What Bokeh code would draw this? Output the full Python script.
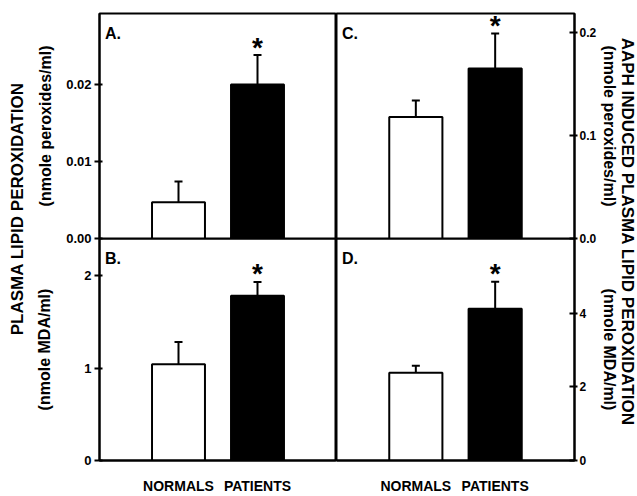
import math
from bokeh.plotting import figure
from bokeh.models import Range1d, FixedTicker, Whisker, TeeHead, Label, ColumnDataSource, NumeralTickFormatter
from bokeh.layouts import row, column
from bokeh.embed import file_html
from bokeh.resources import INLINE
from bokeh.core.properties import value

FONT = "Liberation Sans"

groups = ["NORMALS", "PATIENTS"]
bar_colors = ["white", "black"]
significance = ["", "*"]

# A: plasma lipid peroxidation (nmole peroxides/ml)
a_mean = [0.0047, 0.0200]
a_sem = [0.0027, 0.0038]
# B: plasma lipid peroxidation (nmole MDA/ml)
b_mean = [1.04, 1.78]
b_sem = [0.24, 0.15]
# C: AAPH induced plasma lipid peroxidation (nmole peroxides/ml)
c_mean = [0.118, 0.165]
c_sem = [0.016, 0.034]
# D: AAPH induced plasma lipid peroxidation (nmole MDA/ml)
d_mean = [2.39, 4.13]
d_sem = [0.19, 0.73]

a_ticks = [0, 0.01, 0.02]
b_ticks = [0, 1, 2]
c_ticks = [0, 0.1, 0.2]
d_ticks = [0, 2, 4]

a_max, b_max, c_max, d_max = 0.0292, 2.40, 0.2185, 6.04

xs = list(range(1, len(groups) + 1))


def panel(means, sems, y_end, ticks, fmt, letter, side, bottom, ylabel, lab_standoff, tick_font):
    left = side == "left"
    p = figure(
        width=303 if left else 285,
        height=258 if bottom else 248,
        x_range=Range1d(0, 3), y_range=Range1d(0, y_end),
        output_backend="svg", toolbar_location=None,
        y_axis_location=side, x_axis_location="below" if bottom else None,
        min_border_left=62 if left else 0, min_border_right=0 if left else 44,
        min_border_top=0 if bottom else 13, min_border_bottom=32 if bottom else 10,
    )
    p.border_fill_alpha = 0
    p.background_fill_alpha = 0
    p.outline_line_color = "black"
    p.outline_line_width = 2
    p.grid.visible = False

    ya = p.yaxis[0]
    ya.ticker = FixedTicker(ticks=ticks)
    ya.formatter = NumeralTickFormatter(format=fmt)
    ya.axis_line_width = 2
    ya.major_tick_line_width = 2
    ya.minor_tick_line_color = None
    ya.major_tick_out = 5 if left else 3
    ya.major_tick_in = 3 if left else 5
    ya.major_label_standoff = 3 if left else 2
    ya.major_label_text_font = FONT
    ya.major_label_text_font_style = "bold"
    ya.major_label_text_font_size = tick_font
    ya.major_label_text_color = "black"
    ya.axis_label = ylabel
    ya.axis_label_text_font = FONT
    ya.axis_label_text_font_style = "bold"
    ya.axis_label_text_font_size = "16px"
    ya.axis_label_text_color = "black"
    ya.axis_label_standoff = lab_standoff

    if bottom:
        xa = p.xaxis[0]
        xa.ticker = FixedTicker(ticks=xs)
        xa.major_label_overrides = {x: g for x, g in zip(xs, groups)}
        xa.axis_line_width = 2
        xa.major_tick_out = 0
        xa.major_tick_in = 0
        xa.minor_tick_line_color = None
        xa.major_label_standoff = 17
        xa.major_label_text_font = FONT
        xa.major_label_text_font_style = "bold"
        xa.major_label_text_font_size = "14px"
        xa.major_label_text_color = "black"

    upper = [m + s for m, s in zip(means, sems)]
    src = ColumnDataSource(dict(x=xs, mean=means, upper=upper, color=bar_colors, star=significance))
    p.vbar(x="x", top="mean", bottom=0, width=0.67, fill_color="color",
           line_color="black", line_width=2, source=src)
    p.add_layout(Whisker(base="x", lower="mean", upper="upper", source=src,
                         line_color="black", line_width=2,
                         upper_head=TeeHead(size=8, line_width=2, line_color="black"),
                         lower_head=None))
    p.text(x="x", y="upper", text="star", source=src, text_align="center",
           text_baseline="middle", y_offset=-8, text_font=value(FONT),
           text_font_style="bold", text_font_size="28px", text_color="black")
    p.add_layout(Label(x=0.07, y=y_end * 0.95, text=letter, text_baseline="top",
                       text_font=FONT, text_font_style="bold", text_font_size="16px",
                       text_color="black"))
    return p


pa = panel(a_mean, a_sem, a_max, a_ticks, "0.00", "A.", "left", False, "(nmole peroxides/ml)", 9, "13px")
pb = panel(b_mean, b_sem, b_max, b_ticks, "0", "B.", "left", True, "(nmole MDA/ml)", 28, "13px")
pc = panel(c_mean, c_sem, c_max, c_ticks, "0.0", "C.", "right", False, "(nmole peroxides/ml)", 2, "12px")
pd = panel(d_mean, d_sem, d_max, d_ticks, "0", "D.", "right", True, "(nmole MDA/ml)", 12, "12px")
pb.margin = (-10, 0, 0, 0)
pd.margin = (-10, 0, 0, 0)


def strip(width, text, frac, angle, size):
    s = figure(width=width, height=496, x_range=Range1d(0, 1), y_range=Range1d(0, 1),
               output_backend="svg", toolbar_location=None,
               x_axis_location=None, y_axis_location=None, min_border=0)
    s.outline_line_color = None
    s.grid.visible = False
    s.border_fill_alpha = 0
    s.background_fill_alpha = 0
    s.add_layout(Label(x=0.5, y=frac, text=text, angle=angle, text_align="center",
                       text_baseline="middle", text_font=FONT, text_font_style="bold",
                       text_font_size=size, text_color="black"))
    return s


left_strip = strip(33, "PLASMA LIPID PEROXIDATION", 0.58, math.pi / 2, "17px")
right_strip = strip(21, "AAPH INDUCED PLASMA LIPID PEROXIDATION", 0.534, -math.pi / 2, "17px")
right_strip.margin = (0, 0, 0, -5)

layout = row(left_strip, column(pa, pb), column(pc, pd), right_strip)

open("out.html", "w").write(file_html(layout, INLINE))
